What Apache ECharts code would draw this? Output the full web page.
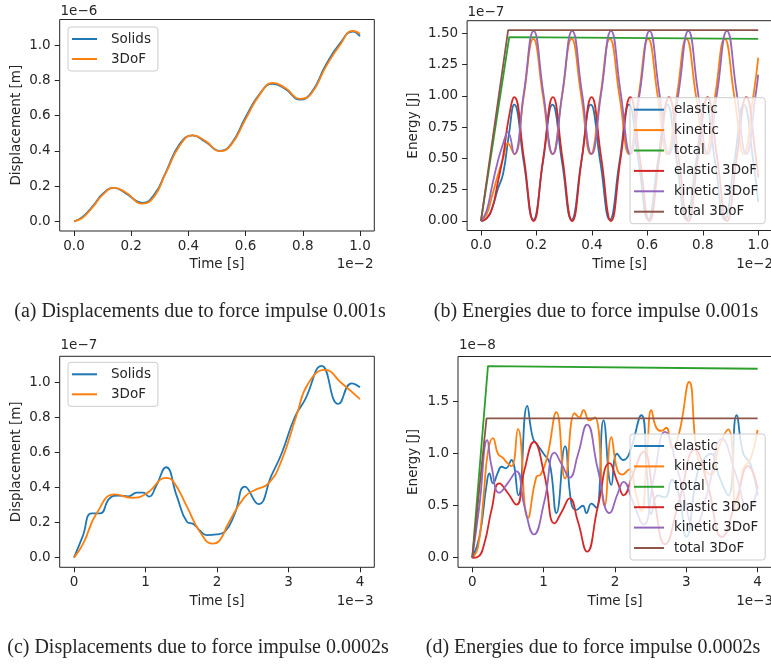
<!DOCTYPE html>
<html>
<head>
<meta charset="utf-8">
<script src="https://cdn.jsdelivr.net/npm/echarts@6.0.0/dist/echarts.min.js"></script>
<style>
html, body { margin: 0; padding: 0; background: #fff; }
#chart { width: 771px; height: 664px; }
</style>
</head>
<body>
<div id="chart"></div>
<script>
// (a) displacement, impulse 0.001s  (time x1e-2 s, displacement x1e-6 m)
var aTime   = [0, 0.03, 0.07, 0.1, 0.14, 0.18, 0.24, 0.28, 0.32, 0.37, 0.415, 0.46, 0.51, 0.55, 0.6, 0.65, 0.695, 0.74, 0.79, 0.83, 0.88, 0.93, 0.975, 1.0];
var aSolids = [0, 0.025, 0.095, 0.155, 0.19, 0.16, 0.105, 0.15, 0.275, 0.44, 0.487, 0.45, 0.40, 0.44, 0.59, 0.725, 0.78, 0.75, 0.69, 0.73, 0.885, 1.01, 1.077, 1.05];
var aDof    = [0, 0.02, 0.09, 0.15, 0.19, 0.165, 0.10, 0.14, 0.27, 0.43, 0.488, 0.455, 0.398, 0.435, 0.58, 0.72, 0.785, 0.755, 0.695, 0.725, 0.875, 1.0, 1.08, 1.063];

// (b) energies, impulse 0.001s  (time x1e-2 s, energy x1e-7 J)
var bElasticT  = [0, 0.02, 0.04, 0.06, 0.08, 0.1, 0.12, 0.1545, 0.189, 0.2235, 0.258, 0.2925, 0.327, 0.3615, 0.396, 0.4305, 0.465, 0.4995, 0.534, 0.5685, 0.603, 0.6375, 0.672, 0.7065, 0.741, 0.7755, 0.81, 0.8445, 0.879, 0.9135, 0.948, 0.9825, 1.0];
var bElastic   = [0, 0.02, 0.1, 0.25, 0.38, 0.68, 0.93, 0.47, 0.01, 0.47, 0.93, 0.47, 0.01, 0.47, 0.93, 0.47, 0.01, 0.47, 0.93, 0.47, 0.01, 0.47, 0.93, 0.47, 0.01, 0.47, 0.93, 0.47, 0.01, 0.47, 0.93, 0.47, 0.15];
var bKineticT  = [0, 0.02, 0.04, 0.06, 0.08, 0.097, 0.12, 0.1545, 0.189, 0.2235, 0.258, 0.2925, 0.327, 0.3615, 0.396, 0.4305, 0.465, 0.4995, 0.534, 0.5685, 0.603, 0.6375, 0.672, 0.7065, 0.741, 0.7755, 0.81, 0.8445, 0.879, 0.9135, 0.948, 0.9825, 1.0];
var bKinetic   = [0, 0.05, 0.2, 0.36, 0.5, 0.62, 0.535, 1.0, 1.455, 1.0, 0.535, 1.0, 1.455, 1.0, 0.535, 1.0, 1.455, 1.0, 0.535, 1.0, 1.455, 1.0, 0.535, 1.0, 1.455, 1.0, 0.535, 1.0, 1.455, 1.0, 0.535, 1.0, 1.305];
var bTotalT    = [0, 0.102, 1.0];
var bTotal     = [0, 1.47, 1.455];
var bElastic3T = [0, 0.02, 0.04, 0.06, 0.08, 0.1, 0.12, 0.155, 0.19, 0.2245, 0.2595, 0.294, 0.329, 0.364, 0.399, 0.434, 0.469, 0.5035, 0.5385, 0.573, 0.608, 0.643, 0.678, 0.713, 0.748, 0.7825, 0.8175, 0.852, 0.887, 0.922, 0.957, 0.992, 1.0];
var bElastic3  = [0, 0.02, 0.1, 0.3, 0.52, 0.82, 0.99, 0.5, 0, 0.5, 0.99, 0.5, 0, 0.5, 0.99, 0.5, 0, 0.5, 0.99, 0.5, 0, 0.5, 0.99, 0.5, 0, 0.5, 0.99, 0.5, 0, 0.5, 0.99, 0.5, 0.35];
var bKinetic3T = [0, 0.02, 0.04, 0.06, 0.08, 0.097, 0.12, 0.155, 0.19, 0.2245, 0.2595, 0.294, 0.329, 0.364, 0.399, 0.434, 0.469, 0.5035, 0.5385, 0.573, 0.608, 0.643, 0.678, 0.713, 0.748, 0.7825, 0.8175, 0.852, 0.887, 0.922, 0.957, 0.992, 1.0];
var bKinetic3  = [0, 0.08, 0.28, 0.47, 0.62, 0.71, 0.535, 1.03, 1.52, 1.03, 0.535, 1.03, 1.52, 1.03, 0.535, 1.03, 1.52, 1.03, 0.535, 1.03, 1.52, 1.03, 0.535, 1.03, 1.52, 1.03, 0.535, 1.03, 1.52, 1.03, 0.535, 1.03, 1.17];
var bTotal3T   = [0, 0.098, 1.0];
var bTotal3    = [0, 1.525, 1.525];

// (c) displacement, impulse 0.0002s  (time x1e-3 s, displacement x1e-7 m)
var cSolidsT = [0, 0.12, 0.247, 0.364, 0.5, 0.62, 0.76, 0.877, 0.97, 1.05, 1.15, 1.287, 1.44, 1.58, 1.67, 1.76, 1.856, 1.996, 2.11, 2.25, 2.39, 2.578, 2.765, 2.905, 3.09, 3.23, 3.464, 3.697, 3.884, 4.0];
var cSolids  = [0, 0.12, 0.253, 0.253, 0.339, 0.354, 0.35, 0.371, 0.371, 0.348, 0.41, 0.516, 0.348, 0.205, 0.192, 0.155, 0.129, 0.133, 0.148, 0.253, 0.405, 0.306, 0.472, 0.596, 0.804, 0.9, 1.094, 0.877, 0.995, 0.972];
var cDofT    = [0, 0.13, 0.317, 0.573, 0.807, 1.017, 1.29, 1.39, 1.58, 1.76, 1.94, 2.04, 2.16, 2.39, 2.53, 2.72, 2.905, 3.114, 3.277, 3.51, 3.744, 4.0];
var cDof     = [0, 0.082, 0.253, 0.361, 0.342, 0.367, 0.455, 0.434, 0.291, 0.148, 0.08, 0.1, 0.196, 0.348, 0.386, 0.424, 0.557, 0.814, 0.995, 1.071, 0.995, 0.905];

// (d) energies, impulse 0.0002s  (time x1e-3 s, energy x1e-8 J)
var dElasticT  = [0, 0.1, 0.2, 0.24, 0.29, 0.36, 0.41, 0.47, 0.547, 0.645, 0.77, 0.85, 0.92, 1.0, 1.085, 1.18, 1.3, 1.39, 1.46, 1.55, 1.6, 1.67, 1.74, 1.84, 1.95, 2.03, 2.12, 2.2, 2.37, 2.45, 2.51, 2.6, 2.7, 2.8, 2.9, 3.0, 3.15, 3.25, 3.35, 3.45, 3.59, 3.705, 3.8, 3.9, 4.0];
var dElastic   = [0, 0.2, 0.7, 0.81, 0.715, 0.82, 0.875, 0.86, 0.94, 0.6, 1.46, 1.15, 1.08, 1.0, 0.91, 0.43, 1.07, 0.52, 0.46, 0.5, 0.43, 0.52, 0.48, 1.32, 0.7, 1.0, 0.94, 1.0, 1.37, 0.8, 0.42, 0.6, 0.58, 0.75, 0.6, 0.2, 0.8, 0.95, 1.0, 0.8, 0.6, 1.37, 1.0, 0.9, 0.6];
var dKineticT  = [0, 0.08, 0.16, 0.22, 0.29, 0.36, 0.43, 0.48, 0.55, 0.64, 0.78, 0.9, 0.96, 1.05, 1.18, 1.3, 1.435, 1.5, 1.56, 1.64, 1.72, 1.855, 1.95, 2.03, 2.1, 2.2, 2.3, 2.37, 2.45, 2.51, 2.58, 2.65, 2.72, 2.8, 2.9, 3.04, 3.15, 3.25, 3.35, 3.45, 3.59, 3.7, 3.8, 3.9, 4.0];
var dKinetic   = [0, 0.1, 0.6, 1.02, 1.15, 1.0, 0.96, 0.92, 0.88, 1.24, 0.38, 0.78, 0.8, 0.97, 1.40, 0.76, 1.39, 1.35, 1.42, 1.32, 1.35, 0.5, 1.16, 0.85, 0.8, 0.85, 0.6, 0.45, 1.0, 1.42, 1.25, 1.22, 1.25, 1.05, 1.2, 1.69, 1.0, 0.85, 0.8, 1.05, 1.235, 0.45, 0.85, 0.95, 1.23];
var dTotalT    = [0, 0.22, 4.0];
var dTotal     = [0, 1.843, 1.817];
var dElastic3T = [0, 0.08, 0.17, 0.27, 0.38, 0.5, 0.62, 0.73, 0.865, 1.01, 1.155, 1.26, 1.365, 1.48, 1.61, 1.76, 1.925, 2.04, 2.12, 2.25, 2.4, 2.55, 2.7, 2.9, 3.12, 3.3, 3.5, 3.7, 3.87, 4.0];
var dElastic3  = [0, 0.01, 0.14, 0.46, 0.715, 0.62, 0.51, 0.84, 1.115, 0.8, 0.33, 0.45, 0.57, 0.35, 0.058, 0.49, 0.91, 0.72, 0.6, 0.8, 1.02, 0.55, 0.13, 0.55, 1.04, 0.7, 0.2, 0.55, 0.88, 0.67];
var dKinetic3T = [0, 0.1, 0.21, 0.27, 0.38, 0.5, 0.62, 0.73, 0.865, 1.01, 1.155, 1.26, 1.365, 1.48, 1.61, 1.76, 1.925, 2.04, 2.12, 2.25, 2.4, 2.55, 2.7, 2.9, 3.12, 3.3, 3.5, 3.7, 3.87, 4.0];
var dKinetic3  = [0, 0.5, 1.13, 0.88, 0.625, 0.72, 0.83, 0.5, 0.225, 0.54, 1.01, 0.89, 0.77, 0.99, 1.28, 0.85, 0.43, 0.62, 0.73, 0.54, 0.32, 0.79, 1.21, 0.79, 0.3, 0.64, 1.14, 0.79, 0.46, 0.67];
var dTotal3T   = [0, 0.2, 4.0];
var dTotal3    = [0, 1.34, 1.34];

// tick labels
var xTicksShort = [0, 0.2, 0.4, 0.6, 0.8, 1.0];
var xTicksLong  = [0, 1, 2, 3, 4];
var yTicksDisp  = [0, 0.2, 0.4, 0.6, 0.8, 1.0];
var yTicksEnB   = [0, 0.25, 0.5, 0.75, 1.0, 1.25, 1.5];
var yTicksEnD   = [0, 0.5, 1.0, 1.5];

var energyNames = ['elastic', 'kinetic', 'total', 'elastic 3DoF', 'kinetic 3DoF', 'total 3DoF'];
var colors = ['#1f77b4', '#ff7f0e', '#2ca02c', '#d62728', '#9467bd', '#8c564b'];

var FONT = 'DejaVu Sans';
var FS = 13.5;
var TXT = '#262626';

function zip(ts, vs) {
    return ts.map(function(t, i) { return [t, vs[i]]; });
}

function line(name, idx, ts, vs, color, smooth) {
    return {
        name: name,
        type: 'line',
        xAxisIndex: idx,
        yAxisIndex: idx,
        data: zip(ts, vs),
        smooth: smooth,
        symbol: 'none',
        showSymbol: false,
        color: color,
        lineStyle: { width: 1.8, color: color },
        animation: false
    };
}

function xAxis(idx, min, max, ticks, digits) {
    return {
        type: 'value', gridIndex: idx, min: min, max: max,
        axisLine: { show: false, onZero: false },
        splitLine: { show: false },
        axisTick: { show: true, inside: false, length: 5, customValues: ticks, lineStyle: { color: TXT } },
        axisLabel: { customValues: ticks, margin: 8, color: TXT, fontFamily: FONT, fontSize: FS,
            formatter: function(v) { return v.toFixed(digits); } }
    };
}

function yAxis(idx, min, max, ticks, digits) {
    return {
        type: 'value', gridIndex: idx, min: min, max: max,
        axisLine: { show: false, onZero: false },
        splitLine: { show: false },
        axisTick: { show: true, inside: false, length: 5, customValues: ticks, lineStyle: { color: TXT } },
        axisLabel: { customValues: ticks, margin: 9, color: TXT, fontFamily: FONT, fontSize: FS,
            formatter: function(v) { return v.toFixed(digits); } }
    };
}

function legend(names, left, top, iconW, gap, textPad) {
    return {
        data: names, orient: 'vertical', left: left, top: top,
        icon: 'rect',
        padding: [5, 7, 5, 4], itemWidth: iconW, itemHeight: 2, itemGap: gap,
        backgroundColor: 'rgba(255,255,255,0.8)', borderColor: '#cccccc', borderWidth: 1, borderRadius: 3,
        textStyle: { color: TXT, fontFamily: FONT, fontSize: FS, lineHeight: 14, padding: [0, 0, 0, textPad] }
    };
}

function text(x, y, s, align, vAlign, opts) {
    opts = opts || {};
    return {
        type: 'text', x: x, y: y, rotation: opts.rotation || 0, silent: true,
        style: {
            text: s, fill: TXT,
            font: (opts.font || (FS + 'px "' + FONT + '"')),
            textAlign: align, textVerticalAlign: vAlign,
            align: align, verticalAlign: vAlign
        }
    };
}

var grids = [
    { left: 59.7, top: 19.5, width: 314.6, height: 211.5 },
    { left: 467.1, top: 20.7, width: 305, height: 209.8 },
    { left: 59.7, top: 356.3, width: 314.6, height: 211 },
    { left: 458, top: 356.5, width: 313.9, height: 210.8 }
];
grids.forEach(function(g) {
    g.show = true; g.borderColor = TXT; g.borderWidth = 1; g.backgroundColor = 'transparent';
    g.containLabel = false; g.outerBoundsMode = 'none';
});

var serif = '20px "Liberation Serif"';

var option = {
    animation: false,
    backgroundColor: '#ffffff',
    grid: grids,
    xAxis: [
        xAxis(0, -0.05, 1.05, xTicksShort, 1),
        xAxis(1, -0.05, 1.05, xTicksShort, 1),
        xAxis(2, -0.2, 4.2, xTicksLong, 0),
        xAxis(3, -0.2, 4.2, xTicksLong, 0)
    ],
    yAxis: [
        yAxis(0, -0.055, 1.145, yTicksDisp, 1),
        yAxis(1, -0.076, 1.601, yTicksEnB, 2),
        yAxis(2, -0.055, 1.149, yTicksDisp, 1),
        yAxis(3, -0.092, 1.935, yTicksEnD, 1)
    ],
    legend: [
        legend(['Solids', '3DoF'], 68, 27, 25, 6, 9),
        legend(energyNames, 630, 97.7, 30, 6.4, 5),
        legend(['Solids', '3DoF'], 68, 362.3, 25, 6, 9),
        legend(energyNames, 630, 434, 30, 6.4, 5)
    ],
    series: [
        line('Solids', 0, aTime, aSolids, colors[0], true),
        line('3DoF', 0, aTime, aDof, colors[1], true),

        line('elastic', 1, bElasticT, bElastic, colors[0], true),
        line('kinetic', 1, bKineticT, bKinetic, colors[1], true),
        line('total', 1, bTotalT, bTotal, colors[2], false),
        line('elastic 3DoF', 1, bElastic3T, bElastic3, colors[3], true),
        line('kinetic 3DoF', 1, bKinetic3T, bKinetic3, colors[4], true),
        line('total 3DoF', 1, bTotal3T, bTotal3, colors[5], false),

        line('Solids', 2, cSolidsT, cSolids, colors[0], true),
        line('3DoF', 2, cDofT, cDof, colors[1], true),

        line('elastic', 3, dElasticT, dElastic, colors[0], true),
        line('kinetic', 3, dKineticT, dKinetic, colors[1], true),
        line('total', 3, dTotalT, dTotal, colors[2], false),
        line('elastic 3DoF', 3, dElastic3T, dElastic3, colors[3], true),
        line('kinetic 3DoF', 3, dKinetic3T, dKinetic3, colors[4], true),
        line('total 3DoF', 3, dTotal3T, dTotal3, colors[5], false)
    ],
    graphic: [
        // offset texts
        text(60.5, 11.5, '1e\u22126', 'left', 'middle'),
        text(467.5, 12.5, '1e\u22127', 'left', 'middle'),
        text(60.5, 345, '1e\u22127', 'left', 'middle'),
        text(459, 345, '1e\u22128', 'left', 'middle'),
        text(373.5, 264, '1e\u22122', 'right', 'middle'),
        text(773, 264, '1e\u22122', 'right', 'middle'),
        text(373.5, 601.5, '1e\u22123', 'right', 'middle'),
        text(773, 601.5, '1e\u22123', 'right', 'middle'),
        // axis titles
        text(217, 264, 'Time [s]', 'center', 'middle'),
        text(619.6, 264, 'Time [s]', 'center', 'middle'),
        text(217, 601.5, 'Time [s]', 'center', 'middle'),
        text(615, 601.5, 'Time [s]', 'center', 'middle'),
        text(16, 125.2, 'Displacement [m]', 'center', 'middle', { rotation: Math.PI / 2 }),
        text(413.3, 125.6, 'Energy [J]', 'center', 'middle', { rotation: Math.PI / 2 }),
        text(16, 461.8, 'Displacement [m]', 'center', 'middle', { rotation: Math.PI / 2 }),
        text(413.3, 461.9, 'Energy [J]', 'center', 'middle', { rotation: Math.PI / 2 }),
        // captions
        text(200, 312, '(a) Displacements due to force impulse 0.001s', 'center', 'middle', { font: serif }),
        text(596, 312, '(b) Energies due to force impulse 0.001s', 'center', 'middle', { font: serif }),
        text(198, 648, '(c) Displacements due to force impulse 0.0002s', 'center', 'middle', { font: serif }),
        text(593, 648, '(d) Energies due to force impulse 0.0002s', 'center', 'middle', { font: serif })
    ]
};

var chart = echarts.init(document.getElementById('chart'), null, { renderer: 'canvas' });
chart.setOption(option);
</script>
</body>
</html>
